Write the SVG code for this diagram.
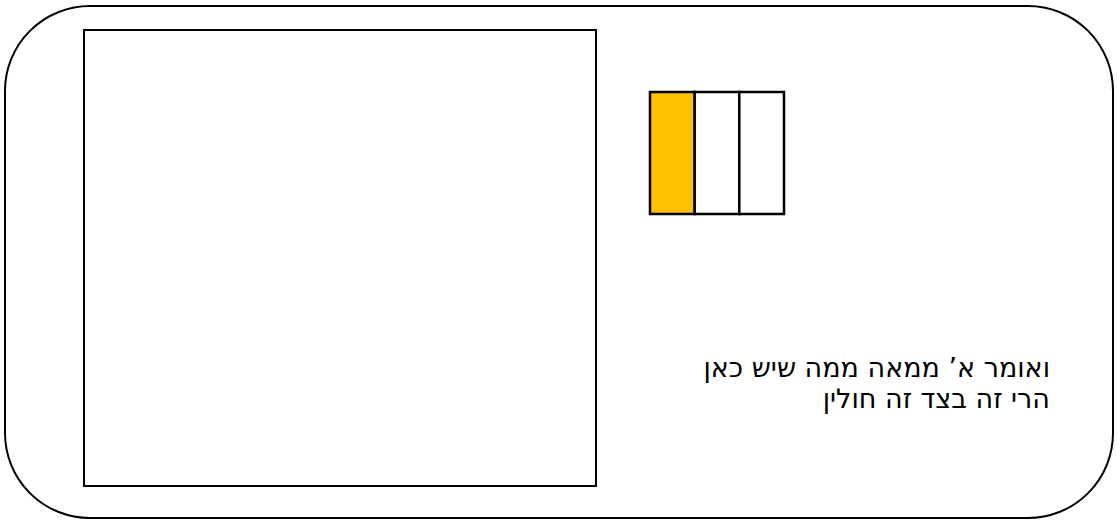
<svg xmlns="http://www.w3.org/2000/svg" width="1117" height="522" viewBox="0 0 1117 522">
<style>
.ln{fill:none;stroke:#000;stroke-width:2}
.cell{stroke:#000;stroke-width:2.5}
.t{font-family:"DejaVu Sans","Liberation Sans",sans-serif;font-size:27px;fill:#000}
</style>
<rect width="1117" height="522" fill="#fff"/>
<g id="frame"><rect class="ln" x="5" y="6" width="1108" height="512" rx="85" ry="85"/></g>
<g id="square"><rect class="ln" x="84" y="30" width="512" height="456"/></g>
<g id="bars">
<rect class="cell" x="650" y="92" width="44.7" height="122" fill="#FFC000"/>
<rect class="cell" x="694.7" y="92" width="44.7" height="122" fill="#fff"/>
<rect class="cell" x="739.3" y="92" width="44.7" height="122" fill="#fff"/>
</g>
<g id="label">
<text class="t" x="1050" y="377" direction="rtl" text-anchor="start">ואומר א’ ממאה ממה שיש כאן</text>
<text class="t" x="1050" y="408" direction="rtl" text-anchor="start">הרי זה בצד זה חולין</text>
</g>
<g id="connectors"/>
</svg>
